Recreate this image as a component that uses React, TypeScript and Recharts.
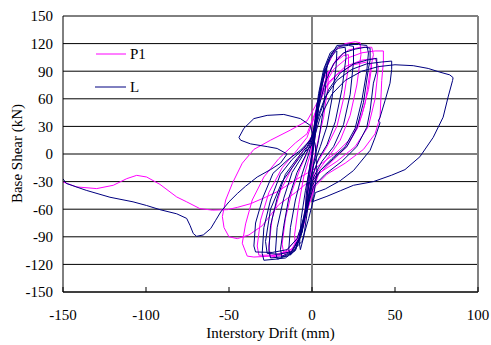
import React, { useEffect } from "react";
import {
  LineChart,
  Line,
  XAxis,
  YAxis,
  CartesianGrid,
  ReferenceLine,
  Legend,
} from "recharts";

// Interstory drift (mm) vs base shear (kN)
const seriesNames = ["P1", "L"];
const xTicks = [-150, -100, -50, 0, 50, 100];
const yTicks = [-150, -120, -90, -60, -30, 0, 30, 60, 90, 120, 150];

const lPoints: [number, number][] = [
  [0, 0], [1, 20], [2, 40], [3, 55], [4, 60], [3.5, 45], [2, 20], [0, -5], [-2, -30], [-3.5, -55], [-4, -62], [-3.5, -45], [-2, -20], [0, 0],
  [2, 30], [4, 60], [6, 80], [8, 92], [9, 96], [8.5, 80], [7, 50], [4, 15], [1, -10], [-1, -35], [-3, -65], [-5, -90], [-7, -104], [-7.5, -98], [-6.5, -70], [-4, -40], [-1, -12], [1, 10],
  [3, 40], [5, 68], [8, 90], [11, 104], [14, 111], [15, 112], [14.5, 95], [12, 60], [9, 30], [5, 8], [1, -12], [-2, -35], [-4, -62], [-7, -88], [-10, -103], [-13, -110], [-14, -104], [-13, -80], [-10, -50], [-6, -22], [-2, 0], [1, 20],
  [3, 45], [5, 72], [8, 95], [12, 110], [16, 115], [20, 116], [20.5, 105], [18, 70], [14, 35], [9, 10], [4, -5], [0, -25], [-3, -55], [-6, -85], [-10, -104], [-15, -111], [-18, -112], [-19, -104], [-17, -78], [-14, -48], [-9, -20], [-4, -2], [0, 15],
  [2, 38], [4, 66], [7, 92], [11, 110], [16, 117], [22, 118], [25, 117], [25, 100], [23, 65], [19, 32], [13, 8], [6, -8], [1, -25], [-3, -55], [-6, -85], [-10, -105], [-16, -113], [-21, -114], [-22, -106], [-21, -80], [-17, -48], [-12, -20], [-6, -3], [-1, 13],
  [3, 38], [5, 64], [7, 82], [10, 102], [15, 118], [22, 119], [28, 119], [33, 118], [34, 110], [33, 90], [30, 58], [26, 28], [20, 8], [12, -5], [5, -18], [0, -35], [-3, -60], [-7, -90], [-12, -106], [-19, -112], [-25, -113], [-26, -105], [-25, -78], [-21, -48], [-16, -22], [-9, -5], [-3, 8],
  [1, 22], [4, 50], [8, 78], [13, 98], [19, 110], [26, 114], [32, 116], [35, 115], [35, 102], [34, 93], [31, 56], [27, 28], [21, 8], [13, -5], [5, -18], [0, -30], [-4, -60], [-8, -92], [-13, -108], [-20, -114], [-29, -115.5], [-30, -108], [-29, -80], [-25, -50], [-19, -22], [-12, -6], [-5, 6],
  [0, 18], [5, 45], [10, 70], [17, 88], [25, 98], [33, 102], [39, 104], [39, 90], [37, 77], [35, 47], [33, 29], [27, 8], [18, -8], [8, -22], [1, -35], [-4, -65], [-9, -92], [-15, -104], [-24, -107], [-34, -106.5], [-35, -100], [-34, -75], [-29.5, -47], [-23.5, -21], [-15, -7], [-7, 4], [-1, 15],
  [3, 38], [8, 62], [15, 80], [24, 92], [33, 98], [42, 100], [48, 101], [48, 92], [47, 77], [44, 58], [41, 40], [40, 36], [41, 34], [38, 18], [35, 4], [25, -18], [17, -29], [8, -38], [2, -42],
  [-2, -70], [-6, -95], [-12, -106], [-20, -109], [-27, -108], [-28, -95], [-25, -60], [-18, -30], [-8, -5], [0, 10],
  [5, 40], [12, 65], [20, 80], [30, 90], [40, 95], [50, 97], [61, 96], [70, 93], [77, 89], [83, 86], [85, 83], [84.7, 80], [82, 62], [79, 40], [73, 18], [65, -3], [56, -17], [48, -23], [37, -30], [25, -34], [17, -40], [9, -46], [0, -52],
  [1, -46], [3, -20], [2, 10], [-1, 31], [-7, 38.5], [-17, 43], [-27, 42], [-35, 38.5], [-41, 28], [-44, 18], [-43, 15], [-37, 11], [-27, 8], [-21, 6], [-15, 0],
  [-19, -10], [-25, -17], [-33, -25], [-40, -35], [-45, -43], [-50, -52], [-55, -63], [-58, -72], [-61, -81], [-65.5, -88], [-69.5, -89.5], [-71.5, -86.5], [-73.5, -77.5], [-75.5, -70], [-81.5, -65], [-91.6, -60.5], [-99.6, -56], [-107.8, -52], [-121.7, -47], [-136, -39.5], [-148, -32], [-150, -27],
];

const p1Points: [number, number][] = [
  [0, 0], [1.5, 25], [3, 50], [4, 58], [3, 35], [1, 8], [-1, -20], [-3, -50], [-4, -58], [-3, -38], [-1, -10], [0, 5],
  [2, 35], [4, 62], [7, 82], [10, 90], [9.5, 72], [7, 40], [3, 10], [0, -15], [-3, -48], [-6, -80], [-8, -95], [-10, -100], [-10.5, -88], [-8, -55], [-5, -25], [-1, 0],
  [2, 30], [5, 62], [9, 85], [14, 100], [19, 107], [22, 108], [22, 95], [19, 60], [15, 30], [9, 8], [3, -10], [-1, -35], [-4, -68], [-8, -95], [-13, -106], [-17, -108], [-18, -98], [-16, -70], [-12, -40], [-7, -15], [-2, 5],
  [2, 35], [5, 68], [9, 95], [14, 113], [20, 120], [26, 122], [29, 121], [29.5, 108], [27, 75], [23, 42], [17, 15], [10, -3], [3, -20], [-1, -45], [-5, -78], [-10, -100], [-17, -110], [-25, -112], [-26, -100], [-24, -70], [-19, -40], [-12, -15], [-5, 5],
  [0, 20], [4, 55], [9, 85], [15, 104], [22, 113], [29, 116], [36, 116], [37, 108], [35, 90], [32, 55], [28, 30], [21, 8], [12, -8], [4, -22], [-1, -48], [-6, -82], [-12, -103], [-20, -110], [-32, -110], [-33, -100], [-31, -72], [-26, -42], [-18, -15], [-10, 2], [-3, 18],
  [1, 38], [6, 70], [13, 92], [21, 104], [30, 110], [38, 112], [43, 112], [43, 100], [42, 80], [41, 40], [38, 22], [31, 5], [20, -10], [9, -22], [2, -35], [-3, -62], [-9, -92], [-16, -106], [-25, -111], [-35, -112], [-39, -111], [-42, -97], [-40, -76], [-36, -50], [-29, -25], [-20, -5], [-10, 12], [-3, 22],
  [3, 50], [10, 78], [20, 95], [30, 102], [38, 104], [40, 95], [38, 60], [34, 30], [26, 8], [15, -8], [5, -20], [-2, -30], [-10, -42], [-20, -55], [-30, -78], [-38, -88], [-45, -92], [-50, -90], [-53, -80], [-54, -68], [-52, -50], [-48, -32], [-42, -10], [-35, 5], [-25, 15], [-13, 26], [-3, 36],
  [2, 52], [8, 72], [16, 88], [25, 97], [33, 100], [36, 96], [34, 70], [30, 42], [24, 18], [15, 2], [6, -10], [0, -18],
  [-7, -25], [-14, -33], [-21, -41], [-28, -47], [-37, -54], [-45, -58], [-51, -60.5], [-60, -61], [-67.5, -59.4], [-75.5, -52], [-81.5, -46.7], [-91.6, -33], [-99.6, -25], [-105.6, -23.2], [-111.6, -26.8], [-119.7, -34], [-129.7, -37.6], [-141.8, -35.8], [-150, -30.4],
];

const lData = lPoints.map(([x, y]) => ({ x, y }));
const p1Data = p1Points.map(([x, y]) => ({ x, y }));

const FONT = "'Liberation Serif', 'Times New Roman', serif";
const MAGENTA = "#FF00FF";
const NAVY = "#000080";

const renderLegend = () => (
  <svg width={80} height={55} style={{ display: "block" }}>
    <line x1={1} y1={10} x2={31} y2={10} stroke={MAGENTA} strokeWidth={1} />
    <text x={35} y={15} fontFamily={FONT} fontSize={15} fill="#000">
      {seriesNames[0]}
    </text>
    <line x1={0} y1={43} x2={31} y2={43} stroke={NAVY} strokeWidth={1} />
    <text x={35} y={48} fontFamily={FONT} fontSize={15} fill="#000">
      {seriesNames[1]}
    </text>
  </svg>
);

export default function App() {
  useEffect(() => {
    document.body.style.margin = "0";
    document.body.style.overflow = "hidden";
  }, []);
  return (
    <div
      style={{
        position: "absolute",
        left: 0,
        top: 0,
        width: 491,
        height: 345,
        background: "#fff",
        overflow: "hidden",
      }}
    >
      <LineChart
        width={491}
        height={345}
        margin={{ top: 16, right: 13, left: 13, bottom: 0 }}
        style={{ overflow: "visible" }}
      >
        <CartesianGrid vertical={false} stroke="#000" strokeWidth={1} />
        <XAxis
          type="number"
          dataKey="x"
          domain={[-150, 100]}
          ticks={xTicks}
          allowDataOverflow
          height={53}
          tickSize={-5}
          tickMargin={22}
          stroke="#000"
          tick={{ fill: "#000", fontSize: 15, fontFamily: FONT }}
          label={{
            content: () => (
              <text
                x={270.5}
                y={338}
                textAnchor="middle"
                fontFamily={FONT}
                fontSize={15}
                fill="#000"
              >
                Interstory Drift (mm)
              </text>
            ),
          }}
        />
        <YAxis
          type="number"
          domain={[-150, 150]}
          ticks={yTicks}
          allowDataOverflow
          width={50}
          tickLine={false}
          tickSize={0}
          tickMargin={10}
          stroke="#000"
          tick={{ fill: "#000", fontSize: 15, fontFamily: FONT }}
          label={{
            content: () => (
              <text
                x={22}
                y={153.5}
                transform="rotate(-90 22 153.5)"
                textAnchor="middle"
                fontFamily={FONT}
                fontSize={15}
                fill="#000"
              >
                Base Shear (kN)
              </text>
            ),
          }}
        />
        <ReferenceLine x={0} stroke="#808080" strokeWidth={2} />
        <ReferenceLine x={100} stroke="#808080" strokeWidth={2} />
        <Line
          data={p1Data}
          dataKey="y"
          name={seriesNames[0]}
          stroke={MAGENTA}
          strokeWidth={1}
          dot={false}
          type="linear"
          isAnimationActive={false}
        />
        <Line
          data={lData}
          dataKey="y"
          name={seriesNames[1]}
          stroke={NAVY}
          strokeWidth={1}
          dot={false}
          type="linear"
          isAnimationActive={false}
        />
        <Legend
          layout="vertical"
          align="center"
          verticalAlign="middle"
          content={renderLegend}
          wrapperStyle={{ left: 95, top: 44, width: 80, height: 55 }}
        />
      </LineChart>
    </div>
  );
}
